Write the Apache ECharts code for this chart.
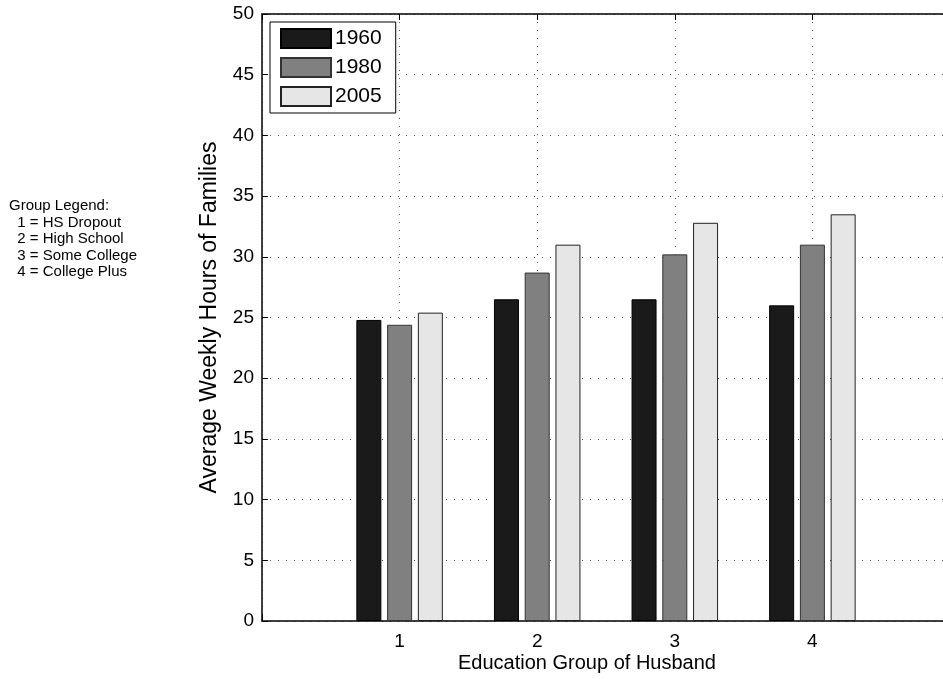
<!DOCTYPE html>
<html>
<head>
<meta charset="utf-8">
<script src="https://cdn.jsdelivr.net/npm/echarts@6/dist/echarts.min.js"></script>
<style>
html,body{margin:0;padding:0;background:#fff;}
#chart{width:943px;height:679px;}
</style>
</head>
<body>
<div id="chart"></div>
<script>
// ---- data ----
const groups = ['1', '2', '3', '4'];
const seriesNames = ['1960', '1980', '2005'];
const values1960 = [24.8, 26.5, 26.5, 26.0];
const values1980 = [24.4, 28.7, 30.2, 31.0];
const values2005 = [25.4, 31.0, 32.8, 33.5];
const yTicks = [0, 5, 10, 15, 20, 25, 30, 35, 40, 45, 50];
const groupLegendLines = ['Group Legend:', '  1 = HS Dropout', '  2 = High School', '  3 = Some College', '  4 = College Plus'];

const colors = ['#1a1a1a', '#808080', '#e6e6e6'];
const borders = ['#000000', '#333333', '#222222'];
const allValues = [values1960, values1980, values2005];

// padded category axis: x ranges 0..5 like MATLAB bar default
const axisCats = [''].concat(groups, ['']);
function pad(arr) { return [null].concat(arr, [null]); }

const font = 'Liberation Sans, Arial, Helvetica, sans-serif';
const chart = echarts.init(document.getElementById('chart'), null, {renderer: 'canvas'});

const series = seriesNames.map((name, i) => ({
  name: name,
  type: 'bar',
  data: pad(allValues[i]),
  barWidth: 25,
  barGap: '23%',
  itemStyle: { color: colors[i], borderColor: borders[i], borderWidth: 1 },
  emphasis: { disabled: true }
}));

const option = {
  animation: false,
  textStyle: { fontFamily: font },
  grid: { left: 262, top: 14, width: 688, height: 607, containLabel: false, outerBoundsMode: 'none' },
  legend: {
    orient: 'vertical',
    left: 270, top: 22,
    data: seriesNames,
    icon: 'rect',
    itemWidth: 50, itemHeight: 19,
    itemGap: 8,
    padding: [6, 14, 6, 10],
    borderColor: '#000', borderWidth: 1,
    backgroundColor: '#fff',
    textStyle: { fontSize: 21, color: '#000', fontFamily: font, padding: [0, 0, 0, -1] }
  },
  xAxis: [{
    type: 'category',
    data: axisCats,
    boundaryGap: false,
    axisLine: { lineStyle: { color: '#000', width: 1.5 } },
    axisTick: { inside: true, length: 6, lineStyle: { color: '#000' } },
    axisLabel: { fontSize: 19, color: '#000', margin: 11, fontFamily: font },
    splitLine: { show: true, lineStyle: { color: '#555', width: 1, type: [1, 7] } }
  }, {
    type: 'category',
    position: 'top',
    data: axisCats,
    boundaryGap: false,
    axisLine: { lineStyle: { color: '#000', width: 1.5 } },
    axisTick: { inside: true, length: 6, lineStyle: { color: '#000' } },
    axisLabel: { show: false },
    splitLine: { show: false }
  }],
  yAxis: {
    type: 'value',
    min: yTicks[0], max: yTicks[yTicks.length - 1], interval: 5,
    name: 'Average Weekly Hours of Families',
    nameLocation: 'middle',
    nameGap: 41,
    nameTextStyle: { fontSize: 23, color: '#000', fontFamily: font },
    axisLine: { show: true, lineStyle: { color: '#000', width: 1.5 } },
    axisTick: { show: true, inside: true, length: 6, lineStyle: { color: '#000' } },
    axisLabel: { fontSize: 19, color: '#000', margin: 8, fontFamily: font },
    splitLine: { show: true, lineStyle: { color: '#555', width: 1, type: [1, 7] } }
  },
  series: series,
  graphic: [
    {
      type: 'text', left: 458, top: 653,
      style: { text: 'Education Group of Husband', fill: '#000', font: '20px ' + font }
    },
    {
      type: 'text', left: 9, top: 198,
      style: { text: groupLegendLines.join('\n'), fill: '#000', font: '15px ' + font, lineHeight: 16.5 }
    }
  ]
};
chart.setOption(option);
</script>
</body>
</html>
